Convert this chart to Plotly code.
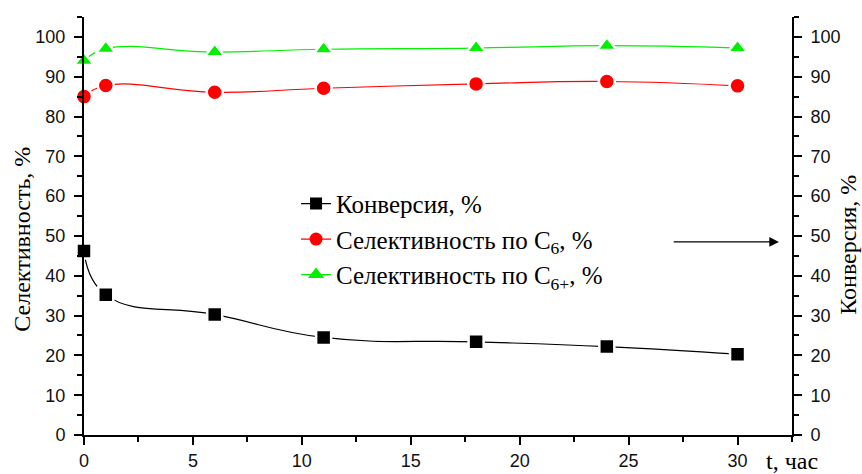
import plotly.graph_objects as go

# Time on stream, h
t_hours = [0, 1, 6, 11, 18, 24, 30]
# Conversion, %
conversion = [46.2, 35.2, 30.3, 24.5, 23.4, 22.2, 20.3]
# Selectivity to C6, %
sel_c6 = [85.0, 87.8, 86.1, 87.1, 88.2, 88.8, 87.7]
# Selectivity to C6+, %
sel_c6plus = [94.0, 97.0, 96.2, 96.9, 97.2, 97.8, 97.2]

names = ["Конверсия, %", "Селективность по C<sub>6</sub>, %", "Селективность по C<sub>6+</sub>, %"]

SERIF = "Liberation Serif, Times New Roman, serif"
SANS = "Liberation Sans, Arial, sans-serif"

fig = go.Figure()

def add_series(y, name, color, symbol, size, axis):
    # curve with a small white halo around each marker
    fig.add_trace(go.Scatter(
        x=t_hours, y=y, name=name, yaxis=axis, showlegend=False,
        mode="lines+markers",
        line=dict(color=color, width=1.2, shape="spline", smoothing=1.3),
        marker=dict(symbol=symbol, size=size, color=color,
                    line=dict(color="white", width=2.5)),
        cliponaxis=False,
    ))
    # legend entry without the halo
    fig.add_trace(go.Scatter(
        x=[None], y=[None], name=name, yaxis=axis,
        mode="lines+markers",
        line=dict(color=color, width=1.2),
        marker=dict(symbol=symbol, size=size - 3, color=color),
    ))

add_series(conversion, names[0], "black", "square", 15, "y2")
add_series(sel_c6, names[1], "#ff0000", "circle", 16, "y")
add_series(sel_c6plus, names[2], "#00f000", "triangle-up", 17, "y")

axis_common = dict(
    showline=True, linecolor="black", linewidth=2,
    ticks="outside", ticklen=8, tickwidth=2, tickcolor="black",
    showgrid=False, zeroline=False, automargin=False,
    tickfont=dict(family=SANS, size=18, color="#111111"),
)
minor_common = dict(ticks="outside", ticklen=5, tickwidth=2, tickcolor="black")

fig.update_layout(
    width=862, height=474,
    margin=dict(l=84, r=70, t=17, b=39),
    plot_bgcolor="white", paper_bgcolor="white",
    xaxis=dict(range=[0, 32.5], tickvals=[0, 5, 10, 15, 20, 25, 30],
               ticklabelstandoff=0,
               minor=dict(dtick=2.5, tick0=0, **minor_common),
               **axis_common),
    yaxis=dict(range=[0, 105], dtick=10, ticklabelstandoff=5,
               minor=dict(dtick=5, **minor_common),
               **axis_common),
    yaxis2=dict(range=[0, 105], dtick=10, overlaying="y", side="right",
                ticklabelstandoff=5,
                minor=dict(dtick=5, **minor_common),
                **axis_common),
    showlegend=True,
    legend=dict(x=0.2995, y=0.608, xanchor="left", yanchor="top",
                bgcolor="rgba(0,0,0,0)",
                font=dict(family=SERIF, size=25, color="black"),
                tracegroupgap=0),
)

# Axis titles
fig.add_annotation(text="Селективность, %", xref="paper", yref="paper",
                   x=-0.087, y=0.468, textangle=-90, showarrow=False,
                   xanchor="center", yanchor="middle",
                   font=dict(family=SERIF, size=24, color="black"))
fig.add_annotation(text="Конверсия, %", xref="paper", yref="paper",
                   x=1.079, y=0.455, textangle=-90, showarrow=False,
                   xanchor="center", yanchor="middle",
                   font=dict(family=SERIF, size=24, color="black"))
fig.add_annotation(text="t, час", xref="paper", yref="paper",
                   x=1.0, y=-0.062, showarrow=False,
                   xanchor="center", yanchor="middle",
                   font=dict(family=SERIF, size=24, color="black"))

# Arrow pointing conversion to the right-hand axis
fig.add_annotation(x=31.9, y=48.5, ax=27.0, ay=48.5,
                   xref="x", yref="y", axref="x", ayref="y",
                   text="", showarrow=True, arrowhead=2, arrowsize=1.6,
                   arrowwidth=1.2, arrowcolor="black")

fig.write_html("out.html")
